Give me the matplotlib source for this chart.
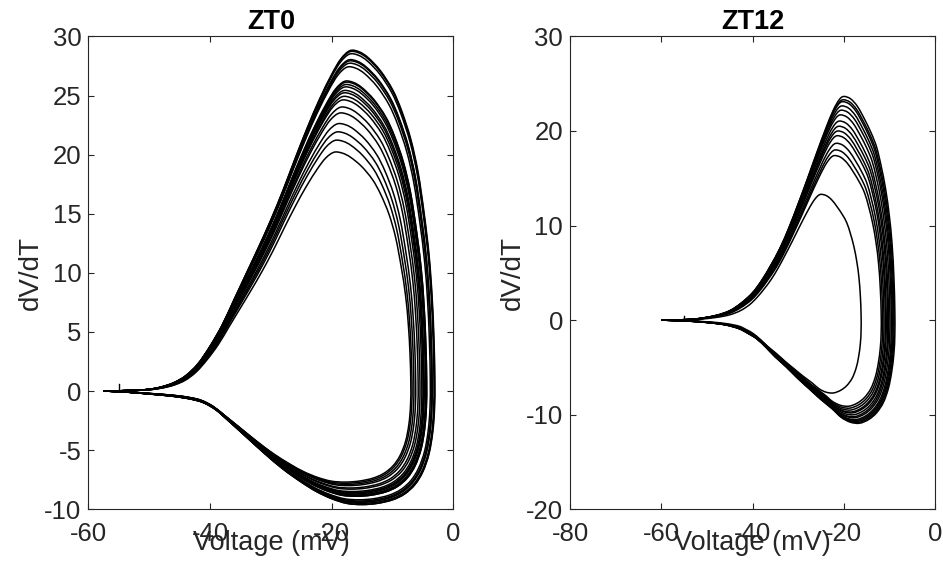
import numpy as np
import matplotlib.pyplot as plt
from matplotlib.path import Path
from matplotlib.patches import PathPatch

plt.rcParams['font.family'] = ['Liberation Sans', 'DejaVu Sans']
plt.rcParams['axes.unicode_minus'] = False

# --- ZT0: outermost loop (voltage mV, dV/dT) traced clockwise from rest
zt0_v = [-57.5, -55, -52, -50, -48, -46, -44, -42, -40, -38, -36, -34, -32, -30,
         -28, -26, -24, -22, -20, -18.5, -17, -15.5, -14, -12, -10, -8.5, -7,
         -5.8, -4.8, -4.0, -3.5, -3.2, -3.05, -3.1, -3.4, -4.0, -5.0, -6.3, -8,
         -10, -12.5, -15, -17.5, -20, -22.5, -25, -28, -31, -34, -37, -39, -41,
         -43, -46, -50, -54, -57.5]
zt0_dvdt = [0, 0.02, 0.08, 0.15, 0.35, 0.7, 1.3, 2.3, 3.8, 5.6, 7.8, 10.0, 12.2,
            14.5, 17.0, 19.7, 22.3, 24.7, 26.8, 28.1, 28.8, 28.7, 28.2, 27.1, 25.5,
            23.7, 21.3, 18.5, 15.0, 11.5, 8.0, 4.5, 1.0, -1.5, -3.5, -5.3, -6.8,
            -7.9, -8.7, -9.2, -9.5, -9.6, -9.5, -9.1, -8.5, -7.7, -6.6, -5.3, -3.9,
            -2.5, -1.6, -1.0, -0.7, -0.45, -0.25, -0.08, 0]

# per-spike peak upstroke, trough and most depolarised voltage
zt0_peak = [28.8, 28.7, 28.5, 28.0, 27.9, 27.7, 27.4, 26.2, 26.1, 25.9, 25.7,
            25.4, 25.2, 24.9, 24.6, 24.0, 23.5, 22.6, 21.9, 21.2, 20.2]
zt0_trough = [-9.6, -9.6, -9.5, -9.4, -9.4, -9.3, -9.2, -8.9, -8.9, -8.8, -8.8,
              -8.7, -8.6, -8.6, -8.5, -8.3, -8.2, -8.0, -7.9, -7.8, -7.7]
zt0_vmax = [-3.05, -3.1, -3.2, -3.5, -3.5, -3.6, -3.8, -4.4, -4.4, -4.5, -4.6,
            -4.8, -4.9, -5.0, -5.2, -5.5, -5.8, -6.2, -6.5, -6.8, -7.0]

# --- ZT12
zt12_v = [-60, -56, -52, -48, -45, -42.5, -40, -38, -36, -34, -32, -30, -28, -26,
          -24, -22.3, -21, -20, -18.5, -17, -15.5, -14, -12.8, -11.8, -10.8, -10,
          -9.4, -9.0, -8.8, -8.8, -9.0, -9.5, -10.2, -11.3, -12.8, -14.5, -16.5,
          -18.5, -20.5, -22.5, -25, -27.5, -30, -32.5, -35, -37, -39, -41, -43,
          -46, -50, -55, -60]
zt12_dvdt = [0, 0.03, 0.15, 0.5, 1.0, 1.8, 2.9, 4.2, 5.8, 7.6, 9.8, 12.3, 14.9,
             17.6, 20.2, 22.2, 23.3, 23.65, 23.4, 22.6, 21.3, 19.8, 18.3, 16.3,
             13.8, 11.0, 8.0, 4.5, 1.0, -1.5, -3.5, -5.5, -7.2, -8.7, -9.8, -10.5,
             -10.9, -10.8, -10.3, -9.4, -8.4, -7.3, -6.2, -5.0, -3.9, -2.9, -2.0,
             -1.4, -0.9, -0.5, -0.25, -0.08, 0]

zt12_peak = [23.65, 23.3, 23.1, 22.65, 22.2, 21.7, 21.05, 20.5, 20.0, 19.5, 18.7,
             18.0, 17.4, 13.3]
zt12_trough = [-10.9, -10.8, -10.7, -10.6, -10.5, -10.3, -10.2, -10.0, -9.8, -9.7,
               -9.5, -9.3, -9.1, -7.7]
zt12_vmax = [-8.8, -9.0, -9.2, -9.4, -9.6, -9.9, -10.2, -10.4, -10.7, -10.9, -11.2,
             -11.5, -11.8, -16.2]

# small artefact at spike onset
zt0_blip_v, zt0_blip_dvdt = [-55, -55], [0, 0.6]
zt12_blip_v, zt12_blip_dvdt = [-55, -55], [0, 0.45]


def loop_from_outer(v, dvdt, v0, peak, trough, vmax):
    """Rescale the outer trajectory to a spike with the given extremes."""
    v = np.asarray(v, float)
    dvdt = np.asarray(dvdt, float)
    s = (vmax - v0) / (v.max() - v0)
    vv = np.where(v > v0, v0 + (v - v0) * s, v)
    dd = np.where(dvdt > 0, dvdt * peak / dvdt.max(), dvdt * trough / dvdt.min())
    return vv, dd


def smooth_path(x, y):
    """Cubic Bezier path through every point (Catmull-Rom tangents)."""
    p = np.column_stack([x, y])
    ext = np.vstack([p[0], p, p[-1]])
    verts = [p[0]]
    codes = [Path.MOVETO]
    for i in range(len(p) - 1):
        p0, p1, p2, p3 = ext[i], ext[i + 1], ext[i + 2], ext[i + 3]
        verts += [p1 + (p2 - p0) / 6, p2 - (p3 - p1) / 6, p2]
        codes += [Path.CURVE4] * 3
    return Path(verts, codes)


fig = plt.figure(figsize=(9.43, 5.69), dpi=100)
ax0 = fig.add_axes([0.0938, 0.105, 0.387, 0.831])
ax1 = fig.add_axes([0.6045, 0.105, 0.387, 0.831])

panels = [
    (ax0, 'ZT0', zt0_v, zt0_dvdt, -45, zt0_peak, zt0_trough, zt0_vmax,
     zt0_blip_v, zt0_blip_dvdt, (-60, 0), (-10, 30), np.arange(-60, 1, 20), np.arange(-10, 31, 5)),
    (ax1, 'ZT12', zt12_v, zt12_dvdt, -43, zt12_peak, zt12_trough, zt12_vmax,
     zt12_blip_v, zt12_blip_dvdt, (-80, 0), (-20, 30), np.arange(-80, 1, 20), np.arange(-20, 31, 10)),
]

grey = '#262626'
for ax, title, v, d, v0, pk, tr, vm, bv, bd, xl, yl, xt, yt in panels:
    for p, t, m in zip(pk, tr, vm):
        vv, dd = loop_from_outer(v, d, v0, p, t, m)
        ax.add_patch(PathPatch(smooth_path(vv, dd), fill=False, edgecolor='black',
                               lw=1.1, joinstyle='round'))
    ax.plot(bv, bd, color='black', lw=1.0)
    ax.set_xlim(*xl)
    ax.set_ylim(*yl)
    ax.set_xticks(xt)
    ax.set_yticks(yt)
    ax.tick_params(direction='in', top=True, right=True, length=4, width=0.8,
                   labelsize=18.5, colors=grey)
    ax.tick_params(axis='x', pad=9)
    ax.tick_params(axis='y', pad=5)
    for sp in ax.spines.values():
        sp.set_color(grey)
        sp.set_linewidth(0.8)
    ax.set_title(title, fontsize=19.5, fontweight='bold', pad=5)
    ax.set_xlabel('Voltage (mV)', fontsize=19.5, color=grey, labelpad=-11)
    ax.set_ylabel('dV/dT', fontsize=20, color=grey, labelpad=0)

fig.savefig('out.png', dpi=100)
